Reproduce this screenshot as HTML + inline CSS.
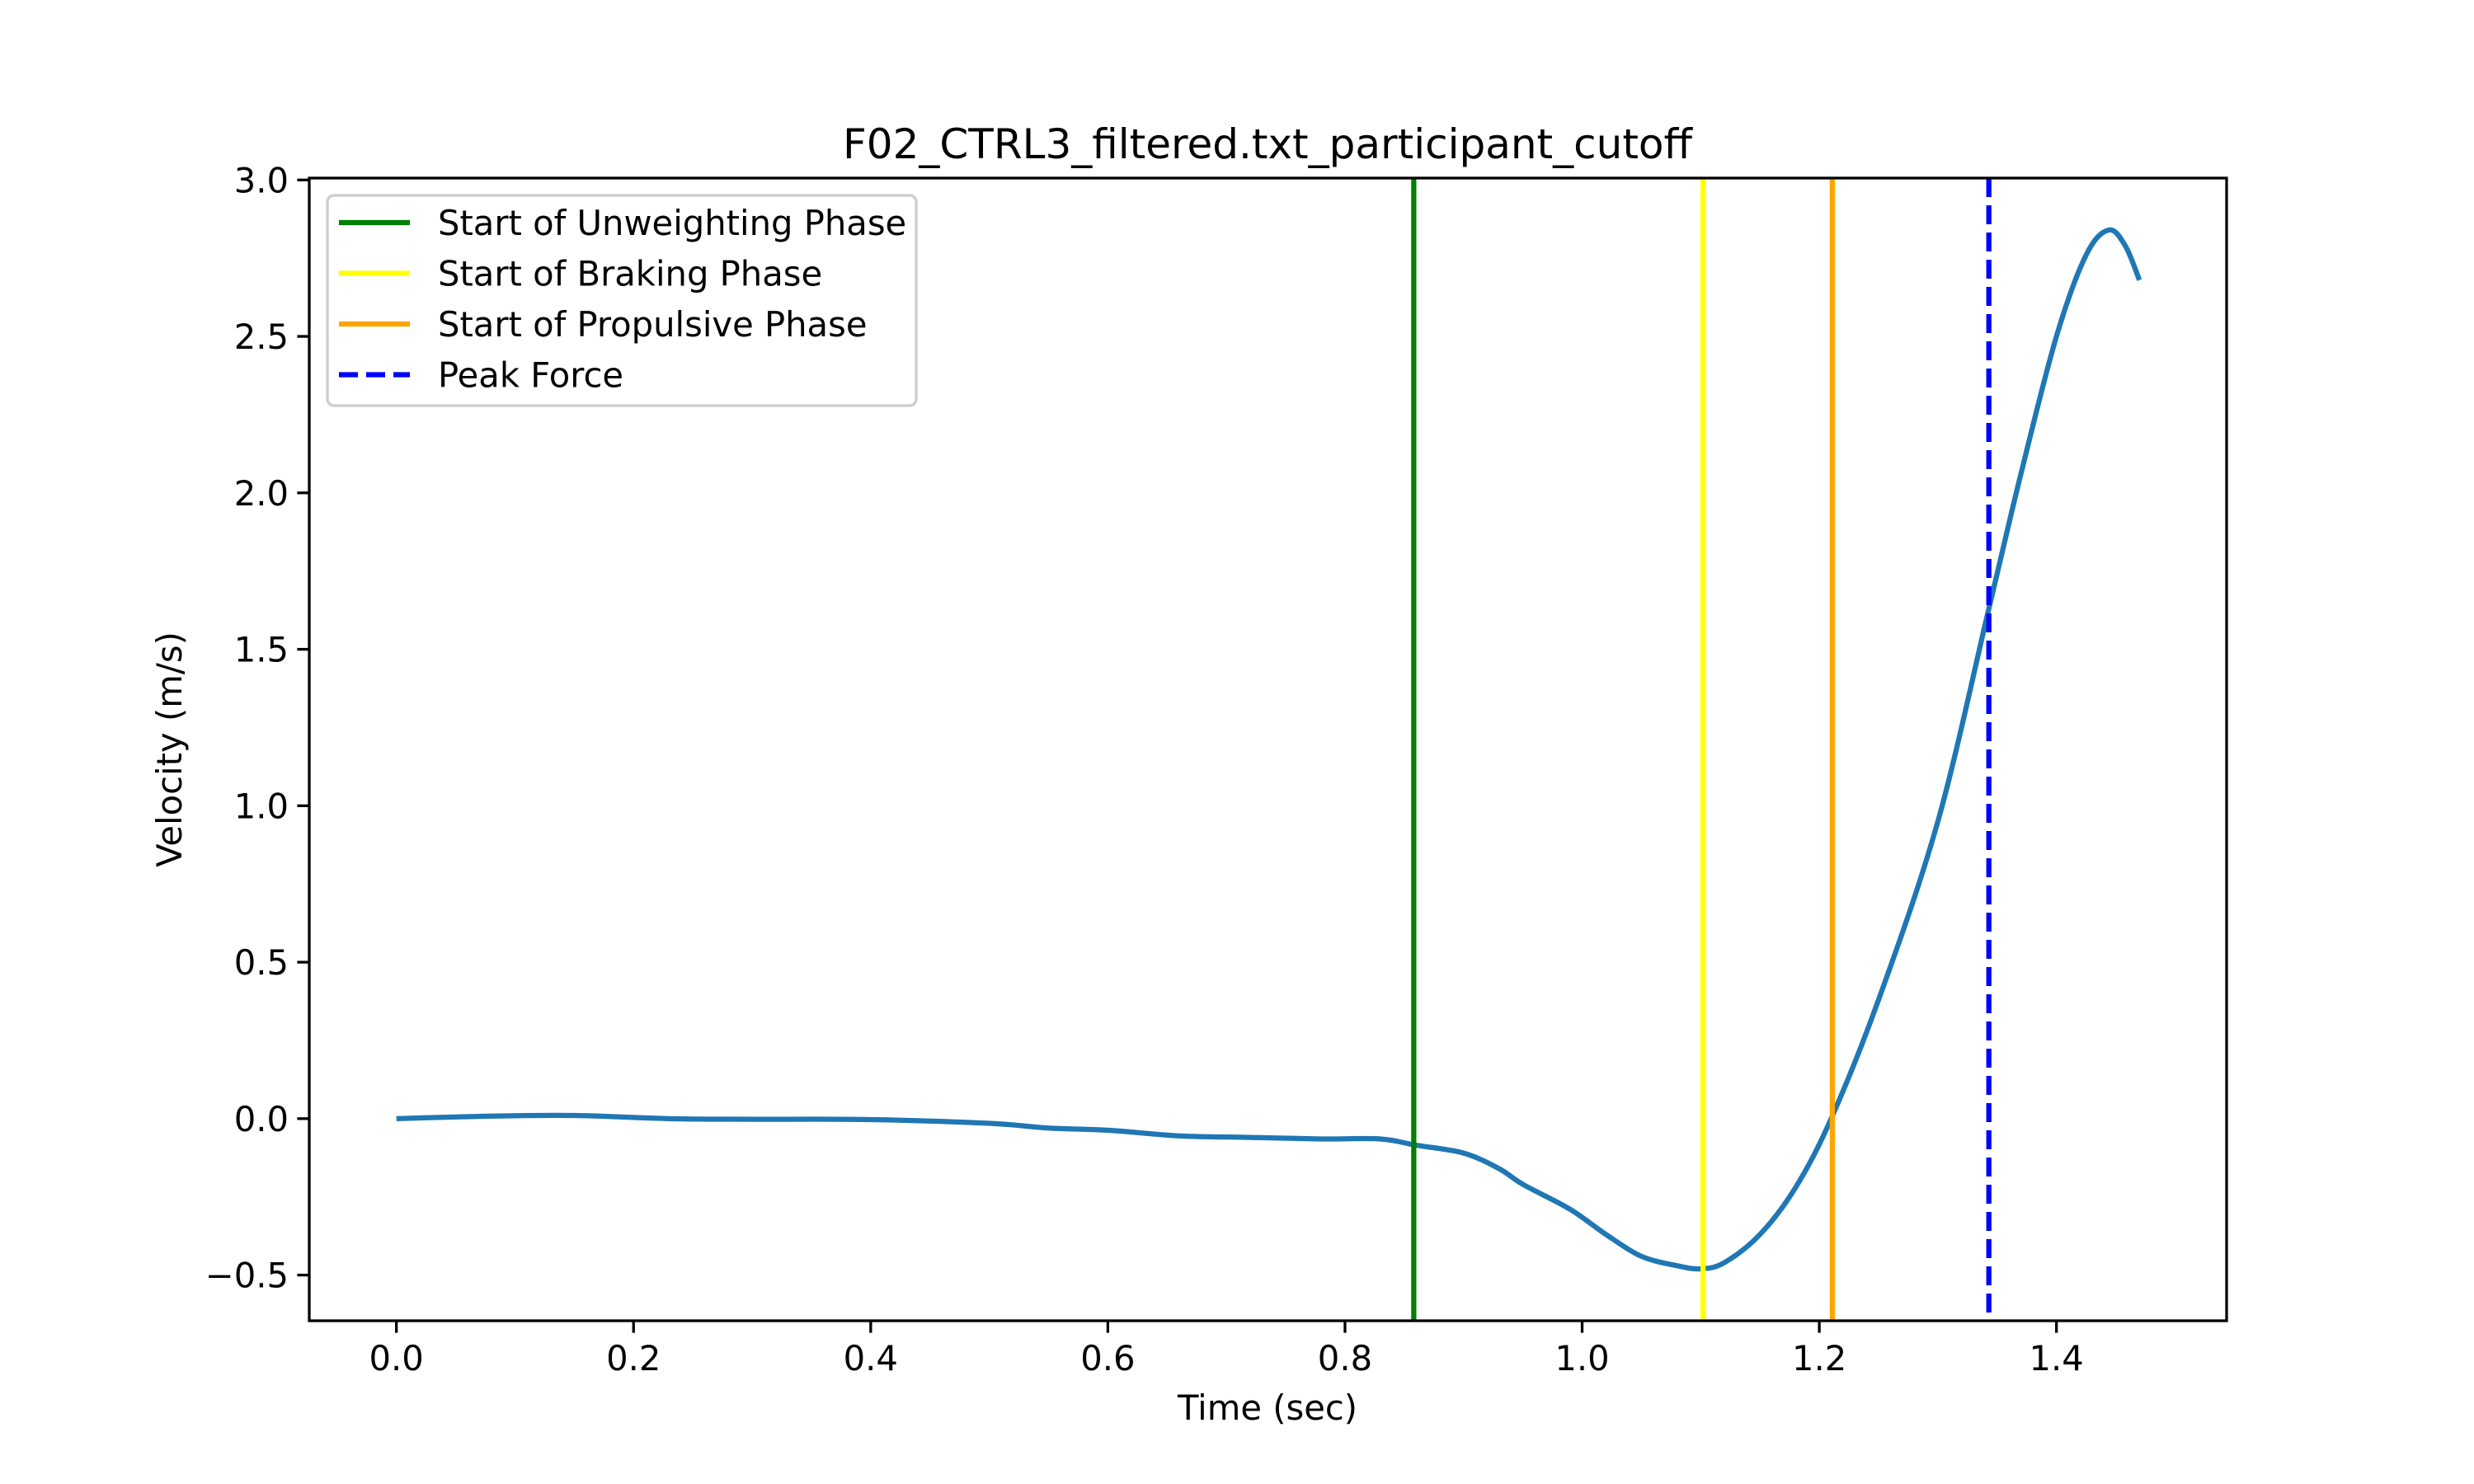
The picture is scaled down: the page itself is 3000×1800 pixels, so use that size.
<!DOCTYPE html>
<html><head><meta charset="utf-8"><style>
html,body{margin:0;padding:0;background:#fff}
svg{display:block;font-family:"DejaVu Sans","Liberation Sans",sans-serif}
</style></head><body>
<svg id="chart" width="3000" height="1800" viewBox="0 0 3000 1800">
<rect width="3000" height="1800" fill="#fff"/>
<text x="1537" y="192" font-size="50" text-anchor="middle">F02_CTRL3_filtered.txt_participant_cutoff</text>
<g id="plot"></g>
<g id="axes"></g>
<text x="1537" y="1722" font-size="41.7" text-anchor="middle">Time (sec)</text>
<text transform="translate(220,909) rotate(-90)" font-size="41.7" text-anchor="middle">Velocity (m/s)</text>
<g id="legend"></g>
</svg>
<script>
const times=[0,0.08,0.15,0.23,0.3,0.4,0.5,0.55,0.6,0.66,0.72,0.78,0.83,0.86,0.9,0.93,0.95,0.99,1.02,1.05,1.08,1.10,1.12,1.15,1.18,1.21,1.25,1.3,1.343,1.37,1.4,1.425,1.444,1.458,1.47];
const velocities=[0,0.008,0.01,0.0,-0.002,-0.003,-0.015,-0.03,-0.037,-0.055,-0.06,-0.065,-0.065,-0.085,-0.11,-0.16,-0.21,-0.29,-0.37,-0.44,-0.47,-0.48,-0.46,-0.37,-0.22,0.0,0.38,0.95,1.63,2.06,2.5,2.76,2.84,2.79,2.68];
const eventTimes=[0.858,1.102,1.211,1.343];
const eventNames=["Start of Unweighting Phase","Start of Braking Phase","Start of Propulsive Phase","Peak Force"];
const eventColors=["green","yellow","orange","blue"];
const xTicks=[0.0,0.2,0.4,0.6,0.8,1.0,1.2,1.4];
const yTicks=[-0.5,0.0,0.5,1.0,1.5,2.0,2.5,3.0];

const L=375,R=2700,T=216,B=1602;
const xmin=-0.0735,xmax=1.5435,ymin=-0.646,ymax=3.006;
const sx=v=>L+(v-xmin)/(xmax-xmin)*(R-L);
const sy=v=>B-(v-ymin)/(ymax-ymin)*(B-T);
const NS="http://www.w3.org/2000/svg";
function mk(tag,attrs,parent){const e=document.createElementNS(NS,tag);for(const k in attrs)e.setAttribute(k,attrs[k]);parent.appendChild(e);return e;}
const plot=document.getElementById('plot'),axes=document.getElementById('axes'),leg=document.getElementById('legend');

const P=times.map((t,i)=>[sx(t),sy(velocities[i])]);
let d=`M${P[0][0]},${P[0][1]}`;
for(let i=0;i<P.length-1;i++){const p0=P[Math.max(0,i-1)],p1=P[i],p2=P[i+1],p3=P[Math.min(P.length-1,i+2)];
d+=` C${p1[0]+(p2[0]-p0[0])/6},${p1[1]+(p2[1]-p0[1])/6} ${p2[0]-(p3[0]-p1[0])/6},${p2[1]-(p3[1]-p1[1])/6} ${p2[0]},${p2[1]}`;}
const curve=mk('path',{d:d,fill:'none',stroke:'#1f77b4','stroke-width':6.25,'stroke-linejoin':'round'},plot);



eventTimes.forEach((t,i)=>{
  const a={x1:sx(t),x2:sx(t),y1:T,y2:B,stroke:eventColors[i],'stroke-width':6.25};
  if(i===3)a['stroke-dasharray']='23 10';
  const ln=mk('line',a,plot);
  
  
});

const frame=mk('rect',{x:L,y:T,width:R-L,height:B-T,fill:'none',stroke:'#000','stroke-width':3.3},axes);


xTicks.forEach(v=>{
  mk('line',{x1:sx(v),x2:sx(v),y1:B,y2:B+14.6,stroke:'#000','stroke-width':3.3},axes);
  const t=mk('text',{x:sx(v),y:B+60,'font-size':41.7,'text-anchor':'middle'},axes);t.textContent=v.toFixed(1);
  
  
});
yTicks.forEach(v=>{
  mk('line',{x1:L-14.6,x2:L,y1:sy(v),y2:sy(v),stroke:'#000','stroke-width':3.3},axes);
  const t=mk('text',{x:L-25,y:sy(v)+15,'font-size':41.7,'text-anchor':'end'},axes);t.textContent=(v<0?'\u2212':'')+Math.abs(v).toFixed(1);
  
  
});

mk('rect',{x:397,y:237,width:714,height:255,rx:8,fill:'#fff','fill-opacity':0.8,stroke:'#ccc','stroke-width':3.3},leg);
eventNames.forEach((n,i)=>{
  const y=270+i*61.5;
  const a={x1:411,x2:497,y1:y,y2:y,stroke:eventColors[i],'stroke-width':6.25};
  if(i===3)a['stroke-dasharray']='23 10';
  mk('line',a,leg);
  const t=mk('text',{x:531,y:y+15,'font-size':41.7},leg);t.textContent=n;
  
  
});
</script>
</body></html>
